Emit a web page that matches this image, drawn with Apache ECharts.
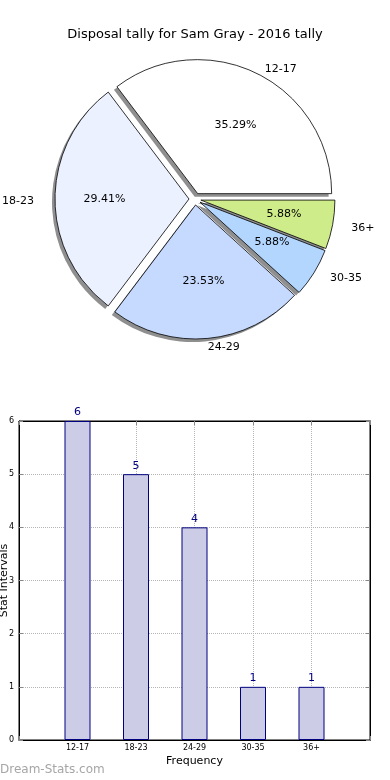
<!DOCTYPE html>
<html>
<head>
<meta charset="utf-8">
<script src="https://cdn.jsdelivr.net/npm/echarts@6/dist/echarts.min.js"></script>
<style>
html,body{margin:0;padding:0;background:#fff;}
#chart{width:390px;height:780px;}
</style>
</head>
<body>
<div id="chart"></div>
<script>
var titleText = 'Disposal tally for Sam Gray - 2016 tally';
var categories = ['12-17', '18-23', '24-29', '30-35', '36+'];
var values = [6, 5, 4, 1, 1];
var pieColors = ['#ffffff', '#ebf1ff', '#c6daff', '#b3d6ff', '#cfec8a'];
var yTicks = [0, 1, 2, 3, 4, 5, 6];
var xAxisName = 'Frequency';
var yAxisName = 'Stat Intervals';
var watermark = 'Dream-Stats.com';

var FONT = 'DejaVu Sans';
var total = values.reduce(function (a, b) { return a + b; }, 0);

// pie geometry (the reference pie is slightly wider than tall)
var PIE_CX = 195, PIE_CY = 199, PIE_R = 134, RX = 141, RY = 128, EXPLODE = 6;
// bar grid geometry
var GRID_LEFT = 19, GRID_RIGHT = 20, GRID_TOP = 421, GRID_BOTTOM = 40;

function midAngle(i) {
  var before = 0;
  for (var k = 0; k < i; k++) before += values[k];
  return (before + values[i] / 2) / total * Math.PI * 2;
}
function labelPos(i, frac) {
  var a = midAngle(i), c = Math.cos(a), s = Math.sin(a);
  return {
    x: PIE_CX + c * (frac * RX + EXPLODE),
    y: PIE_CY - s * (frac * RY + EXPLODE),
    c: c
  };
}

function pieData(colorFn, sel) {
  return categories.map(function (c, i) {
    return { name: c, value: values[i], selected: !!sel, itemStyle: { color: colorFn(i) } };
  });
}

var pieCommon = {
  type: 'pie',
  startAngle: 0,
  clockwise: false,
  avoidLabelOverlap: false,
  animation: false,
  silent: true,
  emphasis: { disabled: true },
  stillShowZeroSum: true
};

function transparent() { return 'rgba(0,0,0,0)'; }

var chart = echarts.init(document.getElementById('chart'), null, { renderer: 'canvas' });
var option = {
  animation: false,
  backgroundColor: '#ffffff',
  title: {
    text: titleText,
    left: 'center',
    top: 23,
    textStyle: { fontFamily: FONT, fontSize: 13, fontWeight: 'normal', color: '#000' }
  },
  graphic: [{
    type: 'text',
    left: 0,
    top: 764,
    style: { text: watermark, fontFamily: FONT, fontSize: 12, fill: '#a6a6a6' }
  }, {
    type: 'text',
    x: 4,
    y: GRID_TOP + (780 - GRID_TOP - GRID_BOTTOM) / 2,
    rotation: Math.PI / 2,
    style: {
      text: yAxisName, fontFamily: FONT, fontSize: 11, fill: '#000',
      align: 'center', verticalAlign: 'middle'
    }
  }],
  grid: {
    left: GRID_LEFT, right: GRID_RIGHT, top: GRID_TOP, bottom: GRID_BOTTOM,
    outerBoundsMode: 'none',
    containLabel: false,
    show: true, borderColor: '#000', borderWidth: 1, backgroundColor: '#fff'
  },
  xAxis: [{
    type: 'value', min: -1, max: 5, interval: 1,
    name: xAxisName, nameLocation: 'middle', nameGap: 16,
    nameTextStyle: { fontFamily: FONT, fontSize: 11, color: '#000' },
    axisLine: { show: true, onZero: false, lineStyle: { color: '#000', width: 1 } },
    axisTick: { show: true, inside: true, length: 4, lineStyle: { color: '#888' } },
    axisLabel: {
      fontFamily: FONT, fontSize: 8, color: '#000', margin: 4,
      formatter: function (v) { return categories[v] !== undefined ? categories[v] : ''; }
    },
    splitLine: { show: true, lineStyle: { type: 'dotted', color: '#b5b5b5', width: 1 } }
  }, {
    type: 'value', min: -1, max: 5, interval: 1, position: 'top',
    axisLine: { show: true, onZero: false, lineStyle: { color: '#000', width: 1 } },
    axisTick: { show: true, inside: true, length: 4, lineStyle: { color: '#888' } },
    axisLabel: { show: false }, splitLine: { show: false }
  }],
  yAxis: [{
    type: 'value', min: 0, max: 6, interval: 1,
    axisLine: { show: true, onZero: false, lineStyle: { color: '#000', width: 1 } },
    axisTick: { show: true, inside: true, length: 4, lineStyle: { color: '#888' } },
    axisLabel: {
      fontFamily: FONT, fontSize: 8, color: '#000', margin: 5,
      formatter: function (v) { return yTicks.indexOf(v) >= 0 ? String(v) : ''; }
    },
    splitLine: { show: true, lineStyle: { type: 'dotted', color: '#b5b5b5', width: 1 } }
  }, {
    type: 'value', min: 0, max: 6, interval: 1, position: 'right',
    axisLine: { show: true, onZero: false, lineStyle: { color: '#000', width: 1 } },
    axisTick: { show: true, inside: true, length: 4, lineStyle: { color: '#888' } },
    axisLabel: { show: false }, splitLine: { show: false }
  }],
  series: [
    // shadow pie (drawn beneath)
    Object.assign({}, pieCommon, {
      name: 'shadow',
      center: [PIE_CX - 3, PIE_CY + 3],
      radius: [0, PIE_R],
      selectedMode: 'multiple',
      selectedOffset: EXPLODE,
      z: 1,
      label: { show: false },
      labelLine: { show: false },
      itemStyle: { borderWidth: 0 },
      select: { itemStyle: { borderWidth: 0 } },
      data: pieData(function () { return '#8f8f8f'; }, true)
    }),
    // main exploded pie
    Object.assign({}, pieCommon, {
      name: 'tally',
      center: [PIE_CX, PIE_CY],
      radius: [0, PIE_R],
      selectedMode: 'multiple',
      selectedOffset: EXPLODE,
      z: 2,
      itemStyle: { borderColor: '#000', borderWidth: 0.8 },
      select: { itemStyle: { borderColor: '#000', borderWidth: 0.8 } },
      label: { show: false },
      labelLine: { show: false },
      data: pieData(function (i) { return pieColors[i]; }, true)
    }),
    // transparent pie carrying the category labels
    Object.assign({}, pieCommon, {
      name: 'names',
      center: [PIE_CX, PIE_CY],
      radius: [0, PIE_R],
      selectedMode: false,
      z: 3,
      itemStyle: { borderWidth: 0, color: 'rgba(0,0,0,0)' },
      label: {
        show: true, position: 'outside', fontFamily: FONT, fontSize: 11, color: '#000',
        distanceToLabelLine: 0,
        formatter: function (p) { return p.name; }
      },
      labelLine: { show: false, length: 14, length2: 0 },
      labelLayout: function (p) {
        var q = labelPos(p.dataIndex, 1.1);
        return { x: q.x - (q.c >= 0 ? 2 : 0), y: q.y + 2, align: q.c >= 0 ? 'left' : 'right', verticalAlign: 'middle' };
      },
      data: pieData(transparent, false)
    }),
    // transparent pie carrying the percentage labels
    Object.assign({}, pieCommon, {
      name: 'pct',
      center: [PIE_CX, PIE_CY],
      radius: [0, PIE_R],
      selectedMode: false,
      z: 3,
      itemStyle: { borderWidth: 0, color: 'rgba(0,0,0,0)' },
      label: {
        show: true, position: 'inside', fontFamily: FONT, fontSize: 11, color: '#000',
        formatter: function (p) { return (p.value / total * 100).toFixed(2) + '%'; }
      },
      labelLayout: function (p) {
        var q = labelPos(p.dataIndex, 0.6);
        return { x: q.x, y: q.y, align: 'center', verticalAlign: 'middle' };
      },
      labelLine: { show: false },
      data: pieData(transparent, false)
    }),
    {
      type: 'bar',
      xAxisIndex: 0, yAxisIndex: 0,
      barWidth: 26,
      z: 5,
      itemStyle: { color: '#ccccE6', borderColor: '#000080', borderWidth: 1 },
      label: {
        show: true, position: 'top', distance: 3,
        fontFamily: FONT, fontSize: 11, color: '#000080'
      },
      data: categories.map(function (c, i) { return [i, values[i]]; })
    }
  ]
};
chart.setOption(option);
</script>
</body>
</html>
